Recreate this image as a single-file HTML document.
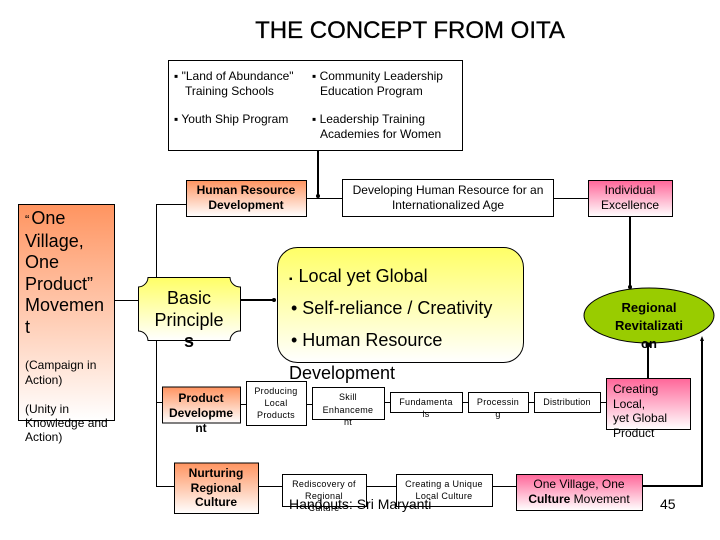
<!DOCTYPE html>
<html>
<head>
<meta charset="utf-8">
<style>
html,body{margin:0;padding:0;background:#fff;}
#p{position:relative;width:720px;height:540px;overflow:hidden;background:#fff;font-family:"Liberation Sans",sans-serif;color:#000;}
.t{position:absolute;white-space:nowrap;}
.c{text-align:center;}
svg{position:absolute;left:0;top:0;}
</style>
</head>
<body>
<div id="p">
<svg width="720" height="540" viewBox="0 0 720 540">
<defs>
<linearGradient id="o" x1="0" y1="0" x2="0" y2="1"><stop offset="0" stop-color="#ff9460"/><stop offset="1" stop-color="#fff"/></linearGradient>
<linearGradient id="y" x1="0" y1="0" x2="0" y2="1"><stop offset="0" stop-color="#ffff66"/><stop offset="1" stop-color="#fff"/></linearGradient>
<linearGradient id="r" x1="0" y1="0" x2="0" y2="1"><stop offset="0" stop-color="#ff6699"/><stop offset="1" stop-color="#fff"/></linearGradient>
</defs>
<g stroke="#000" fill="none" stroke-width="1">
<path d="M186.500 204.500H156.500V486.500H174M156 402.500H162M114 300.500H138M241 404.500H246M306 404.500H312M384 402.500H390M462 402.500H468M528 402.500H534M600 402.500H606M258 486.500H282M366 486.500H396M492 486.500H516M307 198.500H342M554 198.500H588"/>
</g>
<g stroke="#000" fill="none" stroke-width="2">
<path d="M318 150V197M241 300H275M630 216V287M648 343V378M702 339V487M642 486H703"/>
</g>
<g fill="#000">
<circle cx="318" cy="196" r="2"/>
<circle cx="274" cy="300" r="2"/>
<circle cx="630" cy="287" r="2"/>
<circle cx="648" cy="345" r="2.500"/>
<path d="M702 336l-2 5h4z"/>
</g>
<g stroke="#000" stroke-width="1">
<rect x="168.500" y="60.500" width="294" height="90" fill="#fff"/>
<rect x="18.500" y="204.500" width="96" height="216" fill="url(#o)"/>
<rect x="186.500" y="180.500" width="120" height="36" fill="url(#o)"/>
<rect x="342.500" y="179.500" width="211" height="37" fill="#fff"/>
<rect x="588.500" y="180.500" width="84" height="36" fill="url(#r)"/>
<rect x="277.500" y="247.500" width="246" height="115" rx="20" ry="20" fill="url(#y)"/>
<ellipse cx="649" cy="315.500" rx="65" ry="27.500" fill="#99cc00"/>
<path d="M148 277.500H230A10 10 0 0 0 240.500 287V331A10 10 0 0 0 230 340.500H148A10 10 0 0 0 138.500 331V287A10 10 0 0 0 148 277.500Z" fill="url(#y)"/>
<rect x="162.500" y="387" width="78" height="36" fill="url(#o)"/>
<rect x="246.500" y="381.500" width="60" height="44" fill="#fff"/>
<rect x="312.500" y="387.500" width="72" height="32" fill="#fff"/>
<rect x="390.500" y="392.500" width="72" height="20" fill="#fff"/>
<rect x="468.500" y="392.500" width="60" height="20" fill="#fff"/>
<rect x="534.500" y="392.500" width="66" height="20" fill="#fff"/>
<rect x="606.500" y="378.500" width="84" height="51" fill="url(#r)"/>
<rect x="174.500" y="463" width="84" height="50.500" fill="url(#o)"/>
<rect x="282.500" y="474.500" width="84" height="32" fill="#fff"/>
<rect x="396.500" y="474.500" width="96" height="32" fill="#fff"/>
<rect x="516.500" y="474.500" width="126" height="36" fill="url(#r)"/>
</g>
</svg>

<div class="t c" style="left:168px;top:17px;width:484px;font-size:24px;line-height:28px;-webkit-text-stroke:.3px #000;">THE CONCEPT FROM OITA</div>

<div class="t" style="left:174px;top:69px;font-size:12px;line-height:15px;">▪ "Land of Abundance"</div>
<div class="t" style="left:185px;top:84px;font-size:12px;line-height:15px;">Training Schools</div>
<div class="t" style="left:174px;top:112px;font-size:12px;line-height:15px;">▪ Youth Ship Program</div>
<div class="t" style="left:312px;top:69px;font-size:12px;line-height:15px;">▪ Community Leadership</div>
<div class="t" style="left:320px;top:84px;font-size:12px;line-height:15px;">Education Program</div>
<div class="t" style="left:312px;top:112px;font-size:12px;line-height:15px;">▪ Leadership Training</div>
<div class="t" style="left:320px;top:127px;font-size:12px;line-height:15px;">Academies for Women</div>

<div class="t c" style="left:186px;top:183px;width:120px;font-size:12px;line-height:15px;font-weight:bold;">Human Resource<br>Development</div>
<div class="t c" style="left:342px;top:183px;width:212px;font-size:12px;line-height:15px;">Developing Human Resource for an<br>Internationalized Age</div>
<div class="t c" style="left:588px;top:183px;width:84px;font-size:12px;line-height:15px;">Individual<br>Excellence</div>

<div class="t" style="left:25px;top:208px;font-size:18px;line-height:21.500px;"><span style="font-size:13px;margin-right:2px;">“</span>One<br>Village,<br>One<br>Product”<br>Movemen<br>t</div>
<div class="t" style="left:25px;top:358px;font-size:12px;line-height:15px;">(Campaign in<br>Action)</div>
<div class="t" style="left:25px;top:402px;font-size:12px;line-height:14px;">(Unity in<br>Knowledge and<br>Action)</div>

<div class="t c" style="left:138px;top:288px;width:102px;font-size:18px;line-height:21.500px;">Basic<br>Principle<br><b>s</b></div>

<div class="t" style="left:289px;top:265px;font-size:18px;line-height:22px;"><span style="font-size:10px;margin-right:1px;">▪</span> Local yet Global</div>
<div class="t" style="left:291px;top:297px;font-size:18px;line-height:22px;">• Self-reliance / Creativity</div>
<div class="t" style="left:291px;top:329px;font-size:18px;line-height:22px;">• Human Resource</div>
<div class="t" style="left:289px;top:362px;font-size:18px;line-height:22px;">Development</div>

<div class="t c" style="left:584px;top:299px;width:130px;font-size:13px;line-height:18px;font-weight:bold;">Regional<br>Revitalizati<br>on</div>

<div class="t c" style="left:162px;top:391px;width:78px;font-size:12px;line-height:15px;font-weight:bold;">Product<br>Developme<br>nt</div>
<div class="t c" style="left:246px;top:385px;width:60px;font-size:9px;line-height:12px;letter-spacing:.3px;">Producing<br>Local<br>Products</div>
<div class="t c" style="left:312px;top:391px;width:72px;font-size:9px;line-height:12.500px;letter-spacing:.3px;">Skill<br>Enhanceme<br>nt</div>
<div class="t c" style="left:390px;top:396px;width:72px;font-size:9px;line-height:12px;letter-spacing:.3px;">Fundamenta<br>ls</div>
<div class="t c" style="left:468px;top:396px;width:60px;font-size:9px;line-height:12px;letter-spacing:.3px;">Processin<br>g</div>
<div class="t c" style="left:534px;top:396px;width:66px;font-size:9px;line-height:12px;letter-spacing:.2px;">Distribution</div>
<div class="t" style="left:613px;top:382px;font-size:12px;line-height:14.500px;">Creating<br>Local,<br>yet Global<br>Product</div>

<div class="t c" style="left:174px;top:466px;width:84px;font-size:12px;line-height:14.500px;font-weight:bold;">Nurturing<br>Regional<br>Culture</div>
<div class="t c" style="left:282px;top:478px;width:84px;font-size:9px;line-height:12px;letter-spacing:.3px;">Rediscovery of<br>Regional<br>Culture</div>
<div class="t c" style="left:396px;top:478px;width:96px;font-size:9px;line-height:12px;letter-spacing:.3px;">Creating a Unique<br>Local Culture</div>
<div class="t c" style="left:516px;top:477px;width:126px;font-size:12px;line-height:15px;">One Village, One<br><b>Culture</b> Movement</div>

<div class="t" style="left:289px;top:496px;font-size:14px;line-height:16px;">Handouts: Sri Maryanti</div>
<div class="t" style="left:660px;top:496px;font-size:14px;line-height:16px;">45</div>
</div>
</body>
</html>
